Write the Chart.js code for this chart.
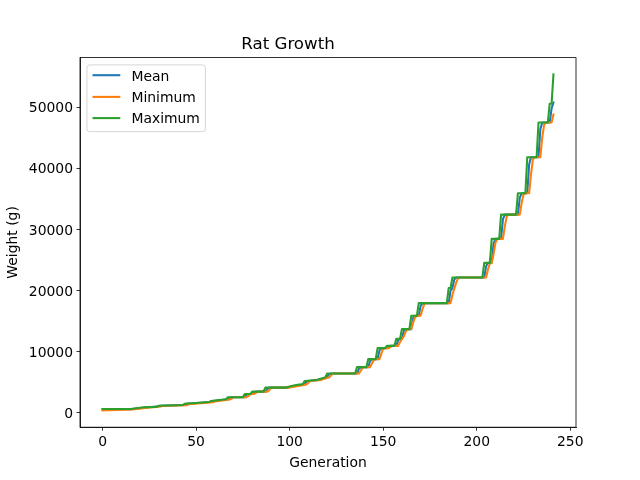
<!DOCTYPE html>
<html>
<head>
<meta charset="utf-8">
<script src="https://cdn.jsdelivr.net/npm/chart.js@4.4.1/dist/chart.umd.min.js"></script>
<style>
html,body{margin:0;padding:0;background:#fff;}
canvas{display:block;}
</style>
</head>
<body>
<canvas id="c" width="640" height="480"></canvas>
<script>
const chartTitle = 'Rat Growth';
const xLabel = 'Generation';
const yLabel = 'Weight (g)';
const seriesNames = ['Mean', 'Minimum', 'Maximum'];
const xTicks = [0, 50, 100, 150, 200, 250];
const yTicks = [0, 10000, 20000, 30000, 40000, 50000];

const maxGen = [0,15,22,29,30,43,44,57,58,66,67,75,76,79,80,86,87,98,101,105,107,108,115,116,119,120,135,136,141,142,146,147,151,152,156,157,159,160,164,165,168,169,184,185,186,187,203,204,207,208,212,213,221,222,226,227,232,233,238,239,240,241];
const maxWeight = [655,660,935,1000,1190,1300,1520,1800,1970,2240,2570,2570,3110,3110,3490,3490,4150,4150,4420,4640,4700,5240,5400,5570,5800,6440,6440,7490,7490,8800,8800,10600,10600,10970,10970,12120,12120,13710,13710,15880,15880,17960,17960,20420,20420,22140,22140,24540,24540,28460,28460,32420,32420,35920,35920,41810,41810,47480,47480,50560,50560,55350];

const meanGen = [0,15,23,30,31,44,45,58,59,67,68,69,76,77,78,80,81,82,87,88,89,99,102,106,108,109,110,116,117,120,121,122,136,137,138,142,143,144,147,148,149,152,153,154,157,158,159,160,161,162,165,166,167,169,170,171,185,186,187,188,189,204,205,206,208,209,210,213,214,215,222,223,224,227,228,229,233,234,235,239,240,241];
const meanWeight = [560,620,900,1100,1180,1300,1500,1800,1950,2240,2500,2570,2570,2950,3110,3110,3400,3490,3490,3950,4150,4150,4400,4620,4700,5100,5240,5450,5570,5850,6300,6440,6440,7200,7490,7490,8500,8800,8800,10200,10600,10600,10900,10970,10970,11900,12120,12120,13400,13710,13710,15500,15880,15880,17500,17960,17960,20000,20420,21800,22140,22140,24000,24540,24540,27700,28460,28460,31700,32420,32420,35200,35920,35920,40600,41810,41810,46400,47480,47480,49800,50760];

const minGen = [0,16,24,31,32,45,46,59,60,68,69,70,77,78,79,80,81,82,83,88,89,90,91,100,103,107,109,110,111,117,118,121,122,123,137,138,139,140,143,144,145,146,148,149,150,151,153,154,155,158,159,160,161,162,163,165,166,167,168,170,171,172,173,186,187,188,189,190,191,205,206,207,208,209,210,211,214,215,216,217,223,224,225,226,228,229,230,231,234,235,236,237,240,241];
const minWeight = [420,560,850,1050,1150,1250,1450,1750,1900,2200,2350,2570,2570,2800,3050,3110,3110,3300,3490,3490,3700,4100,4150,4150,4350,4550,4650,4950,5240,5400,5570,5800,6100,6440,6440,6900,7400,7490,7490,8100,8700,8800,8800,9700,10500,10600,10600,10850,10970,10970,11600,12050,12500,13300,13710,13710,14800,15600,15880,15880,17000,17800,17960,17960,19300,20300,21300,22000,22140,22140,23500,24400,24540,26000,27800,28460,28460,30500,32100,32420,32420,34300,35700,35920,35920,39000,41400,41810,41810,45000,47100,47480,47480,48800];

const colors = ['#1f77b4', '#ff7f0e', '#2ca02c'];

function pts(gs, ws) { return gs.map((g, i) => ({x: g, y: ws[i]})); }

const FONT = 'DejaVu Sans';
Chart.defaults.font.family = FONT;
Chart.defaults.font.size = 13.9;
Chart.defaults.color = '#000';

const framePlugin = {
  id: 'frame',
  afterDatasetsDraw(chart) {
    const ctx = chart.ctx, a = chart.chartArea;
    ctx.save();
    ctx.strokeStyle = '#000';
    ctx.lineWidth = 0.8;
    ctx.strokeRect(a.left, a.top, a.right - a.left, a.bottom - a.top);
    ctx.restore();
  }
};

const legendPlugin = {
  id: 'mplLegend',
  afterDraw(chart) {
    const ctx = chart.ctx, a = chart.chartArea;
    const fs = 13.9;
    ctx.save();
    ctx.font = fs + 'px "' + FONT + '"';
    let maxW = 0;
    seriesNames.forEach(n => { maxW = Math.max(maxW, ctx.measureText(n).width); });
    const x0 = a.left + 6.95, y0 = a.top + 7.3;
    const pad = 5.56, hl = 27.8, htp = 11.1;
    const w = pad * 2 + hl + htp + maxW;
    const h = 66.7;
    const r = 2.8;
    ctx.beginPath();
    ctx.moveTo(x0 + r, y0);
    ctx.lineTo(x0 + w - r, y0);
    ctx.arcTo(x0 + w, y0, x0 + w, y0 + r, r);
    ctx.lineTo(x0 + w, y0 + h - r);
    ctx.arcTo(x0 + w, y0 + h, x0 + w - r, y0 + h, r);
    ctx.lineTo(x0 + r, y0 + h);
    ctx.arcTo(x0, y0 + h, x0, y0 + h - r, r);
    ctx.lineTo(x0, y0 + r);
    ctx.arcTo(x0, y0, x0 + r, y0, r);
    ctx.closePath();
    ctx.fillStyle = 'rgba(255,255,255,0.8)';
    ctx.fill();
    ctx.strokeStyle = 'rgba(204,204,204,0.8)';
    ctx.lineWidth = 1;
    ctx.stroke();
    const rowY = [10.3, 32.0, 53.2];
    seriesNames.forEach((n, i) => {
      const ly = y0 + rowY[i];
      ctx.beginPath();
      ctx.moveTo(x0 + pad, ly);
      ctx.lineTo(x0 + pad + hl, ly);
      ctx.strokeStyle = colors[i];
      ctx.lineWidth = 2.08;
      ctx.stroke();
      ctx.fillStyle = '#000';
      ctx.textBaseline = 'alphabetic';
      ctx.textAlign = 'left';
      ctx.fillText(n, x0 + pad + hl + htp, ly + 5.3);
    });
    ctx.restore();
  }
};

const tickGrid = {
  display: true,
  drawOnChartArea: false,
  drawTicks: true,
  tickLength: 3.5,
  tickWidth: 0.8,
  tickColor: '#000'
};

new Chart(document.getElementById('c'), {
  type: 'line',
  data: {
    datasets: [
      {label: seriesNames[0], data: pts(meanGen, meanWeight), borderColor: colors[0], order: 3},
      {label: seriesNames[1], data: pts(minGen, minWeight), borderColor: colors[1], order: 2},
      {label: seriesNames[2], data: pts(maxGen, maxWeight), borderColor: colors[2], order: 1}
    ].map(d => Object.assign(d, {borderWidth: 2.08, pointRadius: 0, tension: 0, fill: false, borderJoinStyle: 'round', borderCapStyle: 'square'}))
  },
  options: {
    responsive: false,
    animation: false,
    devicePixelRatio: 1,
    layout: {padding: {left: 0, right: 64, top: 0, bottom: 0}},
    plugins: {
      legend: {display: false},
      tooltip: {enabled: false},
      title: {
        display: true,
        text: chartTitle,
        color: '#000',
        font: {family: FONT, size: 16.67, weight: 'normal', lineHeight: 1.2},
        padding: {top: 35, bottom: 2.6}
      }
    },
    scales: {
      x: {
        type: 'linear',
        min: -12.05,
        max: 253.05,
        grid: tickGrid,
        border: {display: true, color: '#000', width: 0.8},
        ticks: {autoSkip: false, maxRotation: 0, padding: 3.5, color: '#000', font: {family: FONT, size: 13.9}, callback: v => String(v)},
        afterBuildTicks: s => { s.ticks = xTicks.map(v => ({value: v})); },
        afterFit: s => { s.height = 52.8; },
        title: {display: true, text: xLabel, color: '#000', font: {family: FONT, size: 13.9, lineHeight: 1.2}, padding: {top: 0, bottom: 8.5}}
      },
      y: {
        type: 'linear',
        min: -2325,
        max: 58090,
        grid: tickGrid,
        border: {display: true, color: '#000', width: 0.8},
        ticks: {autoSkip: false, padding: 3.5, labelOffset: 1.5, color: '#000', font: {family: FONT, size: 13.9}, callback: v => String(v)},
        afterBuildTicks: s => { s.ticks = yTicks.map(v => ({value: v})); },
        afterFit: s => { s.width = 80; },
        title: {display: true, text: yLabel, color: '#000', font: {family: FONT, size: 13.9, lineHeight: 1.2}, padding: {top: 5, bottom: 0}}
      }
    }
  },
  plugins: [framePlugin, legendPlugin]
});
</script>
</body>
</html>
